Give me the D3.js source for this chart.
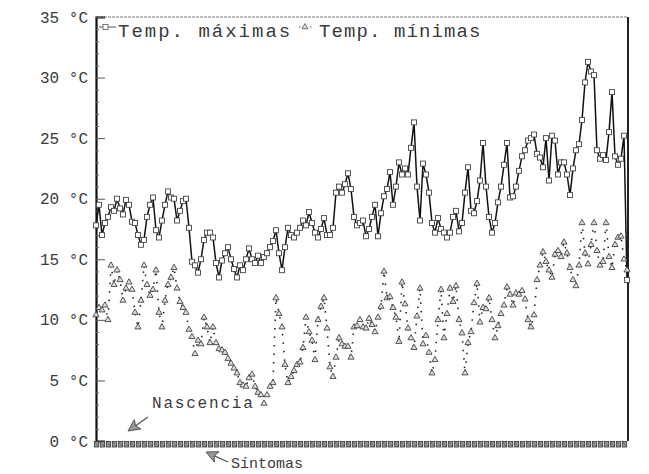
<!DOCTYPE html>
<html>
<head>
<meta charset="utf-8">
<script src="https://cdn.jsdelivr.net/npm/d3@7/dist/d3.min.js"></script>
<style>
  html, body { margin: 0; padding: 0; background: #ffffff; }
  svg { display: block; }
  text { font-family: "Liberation Mono", "DejaVu Sans Mono", monospace; fill: #3a3a3a; }
</style>
</head>
<body>
<svg id="chart" width="649" height="474"></svg>
<script>
// Daily maximum temperatures (°C)
const tempMax = [
  17.8, 19.5, 17.0, 18.0, 18.5, 19.3, 19.0, 20.0, 19.2, 18.7,
  19.9, 19.5, 18.1, 18.0, 17.0, 16.2, 16.6, 18.5, 19.5, 20.1,
  17.4, 16.8, 18.2, 19.5, 20.6, 20.1, 20.0, 18.2, 19.0, 19.8,
  20.0, 17.6, 14.8, 14.5, 13.9, 15.0, 16.6, 17.2, 17.2, 16.8,
  14.7, 13.5, 14.9, 15.5, 16.0, 15.0, 14.2, 13.5, 14.5, 14.1,
  15.0, 15.9, 15.0, 14.7, 15.3, 14.7, 15.2, 15.5, 16.0, 16.5,
  17.4, 15.5, 14.1, 16.0, 17.6, 17.0, 16.8, 17.2, 17.6, 18.2,
  17.8, 18.9, 18.0, 17.2, 16.8, 17.5, 18.4, 17.0, 17.0, 17.6,
  20.5, 21.0, 20.5, 21.2, 22.1, 20.8, 18.5, 17.8, 18.0, 18.2,
  16.9, 17.5, 18.5, 19.5, 16.9, 18.8, 20.2, 20.8, 22.2, 19.5,
  21.0, 23.0, 22.0, 22.5, 22.0, 24.2, 26.3, 21.0, 18.2, 22.9,
  22.0, 20.5, 18.0, 17.2, 18.4, 17.5, 17.2, 16.8, 17.2, 18.5,
  19.0, 17.3, 18.0, 20.5, 22.6, 19.0, 18.8, 19.8, 21.5, 24.6,
  21.0, 18.5, 17.2, 18.0, 19.7, 21.0, 22.8, 24.6, 20.1, 20.2,
  21.0, 22.3, 23.5, 24.0, 24.8, 25.0, 25.3, 23.7, 23.4, 22.6,
  25.0, 21.5, 25.2, 24.8, 22.0, 23.0, 23.0, 22.0, 20.3, 22.5,
  24.0, 24.5, 26.5, 29.6, 31.3, 30.5, 30.2, 24.0, 23.3, 23.6,
  23.2, 25.5, 28.8, 23.5, 22.8, 23.3, 25.2, 13.3
];

// Daily minimum temperatures (°C)
const tempMin = [
  10.4, 11.0, 10.8, 11.2, 10.0, 14.5, 12.9, 14.1, 13.3, 11.6,
  12.6, 13.1, 12.5, 10.6, 9.4, 11.6, 14.5, 12.9, 12.0, 12.5,
  14.1, 10.6, 9.4, 11.6, 12.9, 13.5, 14.3, 12.6, 11.5, 11.0,
  10.6, 9.2, 8.6, 7.2, 8.3, 8.0, 10.2, 9.4, 8.1, 9.4,
  8.1, 7.6, 7.5, 7.3, 6.8, 6.4, 6.0, 5.6, 4.8, 4.6,
  4.5, 5.2, 5.5, 4.5, 4.0, 3.8, 3.1, 3.8, 4.5, 4.8,
  11.8, 10.5, 9.4, 6.3, 4.8, 5.3, 5.8, 6.3, 6.5, 7.7,
  10.2, 9.0, 8.3, 6.7, 10.0, 11.1, 11.8, 9.3, 6.1, 5.3,
  6.9, 8.5, 8.0, 7.8, 7.8, 6.9, 9.4, 9.5, 10.0, 9.4,
  9.3, 10.1, 9.6, 9.0, 10.2, 11.1, 14.0, 11.8, 11.9, 11.0,
  10.2, 8.2, 13.1, 11.3, 9.3, 8.5, 7.7, 10.3, 12.6, 8.0,
  8.7, 7.3, 5.6, 6.7, 10.0, 12.5, 8.5, 10.5, 12.6, 11.5,
  12.8, 10.0, 8.9, 5.6, 8.1, 9.0, 11.4, 13.0, 9.8, 11.0,
  10.9, 11.8, 10.0, 8.5, 9.5, 10.5, 11.2, 12.7, 12.1, 11.2,
  12.2, 12.1, 12.4, 11.7, 10.0, 9.4, 10.4, 13.3, 14.5, 15.6,
  14.8, 14.1, 13.5, 15.4, 15.7, 15.2, 16.4, 15.5, 14.3, 13.3,
  12.8, 14.5, 18.0, 15.5, 14.6, 16.2, 18.0, 15.7, 14.5, 14.8,
  18.0, 15.2, 14.3, 16.2, 16.8, 16.9, 15.0, 14.1
];

// Y axis ticks and labels
const yTicks = [0, 5, 10, 15, 20, 25, 30, 35];
const yTickLabels = ["0 °C", "5 °C", "10 °C", "15 °C", "20 °C", "25 °C", "30 °C", "35 °C"];

// Legend entries and annotations
const seriesNames = ["Temp. máximas", "Temp. mínimas"];
const notes = [
  { label: "Nascencia", day: 10 },
  { label: "Síntomas", day: 38 }
];

const svg = d3.select("#chart");
const margin = { left: 96, right: 22, top: 17, bottom: 33 };
const W = 649, H = 474;

const days = d3.range(tempMax.length);
const x = d3.scaleLinear().domain([0, days.length - 1]).range([margin.left, W - margin.right]);
const y = d3.scaleLinear().domain([0, 35]).range([H - margin.bottom, margin.top]);

// frame: light dotted top, dark right
svg.append("line")
  .attr("x1", x(0)).attr("x2", x(days.length - 1) + 1)
  .attr("y1", y(35)).attr("y2", y(35))
  .attr("stroke", "#777").attr("stroke-width", 1).attr("stroke-dasharray", "3,1");
svg.append("line")
  .attr("x1", x(days.length - 1) + 1).attr("x2", x(days.length - 1) + 1)
  .attr("y1", y(35)).attr("y2", y(0))
  .attr("stroke", "#222").attr("stroke-width", 2);

// left axis with inward ticks
const yAxis = d3.axisLeft(y)
  .tickValues(yTicks)
  .tickSize(-9)
  .tickPadding(8)
  .tickFormat((d, i) => yTickLabels[i]);
const gy = svg.append("g")
  .attr("transform", `translate(${margin.left},0)`)
  .call(yAxis);
gy.select(".domain").attr("stroke", "#111").attr("stroke-width", 2.2);
gy.selectAll(".tick line").attr("stroke", "#555").attr("stroke-width", 1);
gy.selectAll(".tick text")
  .style("font-family", "'Liberation Mono', monospace")
  .style("font-size", "16px")
  .attr("fill", "#333");

// minor ticks on the left axis
const minorAxis = d3.axisLeft(y)
  .tickValues(d3.range(0, 36).filter(v => v % 5 !== 0))
  .tickSize(-3).tickFormat("");
const gm = svg.append("g")
  .attr("transform", `translate(${margin.left},0)`)
  .call(minorAxis);
gm.select(".domain").remove();
gm.selectAll(".tick line").attr("stroke", "#666");

// bottom axis: one boxed tick every second day along 0 °C
const xAxis = d3.axisBottom(x)
  .tickValues(days.filter(d => d % 2 === 0))
  .tickSize(0).tickFormat("");
const gx = svg.append("g")
  .attr("transform", `translate(0,${y(0)})`)
  .call(xAxis);
gx.select(".domain").remove();
gx.selectAll(".tick").append("rect")
  .attr("x", -2.2).attr("y", 0.5).attr("width", 4.4).attr("height", 5.5)
  .attr("fill", "#9a9a9a").attr("stroke", "#333").attr("stroke-width", 0.8);
gx.selectAll(".tick").append("line")
  .attr("x1", -2).attr("x2", 2).attr("y1", 1).attr("y2", 5.5)
  .attr("stroke", "#444").attr("stroke-width", 0.6);

// maximum temperature line with open square markers
const lineMax = d3.line().x((d, i) => x(i)).y(d => y(d));
svg.append("path")
  .datum(tempMax)
  .attr("d", lineMax)
  .attr("fill", "none")
  .attr("stroke", "#111")
  .attr("stroke-width", 1.5)
  .attr("stroke-linejoin", "round");
svg.append("g").selectAll("rect")
  .data(tempMax)
  .join("rect")
  .attr("x", (d, i) => x(i) - 2.5)
  .attr("y", d => y(d) - 2.5)
  .attr("width", 5).attr("height", 5)
  .attr("fill", "#fff")
  .attr("stroke", "#444")
  .attr("stroke-width", 0.9);

// minimum temperature: dotted connection with open triangle markers
const lineMin = d3.line().x((d, i) => x(i)).y(d => y(d));
svg.append("path")
  .datum(tempMin)
  .attr("d", lineMin)
  .attr("fill", "none")
  .attr("stroke", "#222")
  .attr("stroke-width", 1.6)
  .attr("stroke-dasharray", "1.5,7");
const tri = d3.symbol().type(d3.symbolTriangle).size(16);
svg.append("g").selectAll("path")
  .data(tempMin)
  .join("path")
  .attr("d", tri)
  .attr("transform", (d, i) => `translate(${x(i)},${y(d)})`)
  .attr("fill", "#ddd")
  .attr("stroke", "#444")
  .attr("stroke-width", 0.9);

// legend
const legY = 27;
svg.append("line").attr("x1", 99).attr("x2", 116).attr("y1", legY).attr("y2", legY)
  .attr("stroke", "#555").attr("stroke-width", 1);
svg.append("rect").attr("x", 103).attr("y", legY - 2.5).attr("width", 5).attr("height", 5)
  .attr("fill", "#fff").attr("stroke", "#555").attr("stroke-width", 0.8);
svg.append("text").attr("x", 118).attr("y", 37)
  .style("font-size", "19px").attr("letter-spacing", "2.0")
  .text(seriesNames[0]);
svg.append("line").attr("x1", 299).attr("x2", 314).attr("y1", legY).attr("y2", legY)
  .attr("stroke", "#555").attr("stroke-width", 1).attr("stroke-dasharray", "1.5,4");
svg.append("path").attr("d", tri)
  .attr("transform", `translate(305,${legY})`)
  .attr("fill", "#ddd").attr("stroke", "#555").attr("stroke-width", 0.8);
svg.append("text").attr("x", 319).attr("y", 37)
  .style("font-size", "19px").attr("letter-spacing", "1.1")
  .text(seriesNames[1]);

// arrow helper: shaft plus a filled head at (x2, y2)
const arrow = (x1, y1, x2, y2) => {
  const a = Math.atan2(y2 - y1, x2 - x1);
  const L = 13, w = 0.45;
  svg.append("line").attr("x1", x1).attr("y1", y1)
    .attr("x2", x2 - Math.cos(a) * 8).attr("y2", y2 - Math.sin(a) * 8)
    .attr("stroke", "#555").attr("stroke-width", 1.3);
  const p = [
    [x2, y2],
    [x2 - L * Math.cos(a - w), y2 - L * Math.sin(a - w)],
    [x2 - L * 0.7 * Math.cos(a), y2 - L * 0.7 * Math.sin(a)],
    [x2 - L * Math.cos(a + w), y2 - L * Math.sin(a + w)]
  ];
  svg.append("path").attr("d", "M" + p.join("L") + "Z")
    .attr("fill", "#999").attr("stroke", "#444").attr("stroke-width", 0.9);
};

// annotation: emergence
const n1x = x(notes[0].day);
svg.append("text").attr("x", n1x + 26).attr("y", 408)
  .style("font-size", "16px").attr("letter-spacing", "1.8")
  .text(notes[0].label);
arrow(n1x + 22, 417, n1x + 2, 431);

// annotation: symptoms
const n2x = x(notes[1].day);
arrow(n2x + 18, 462, n2x - 4, 452);
svg.append("text").attr("x", n2x + 21).attr("y", 468)
  .style("font-size", "15px").attr("letter-spacing", "0")
  .text(notes[1].label);
</script>
</body>
</html>
